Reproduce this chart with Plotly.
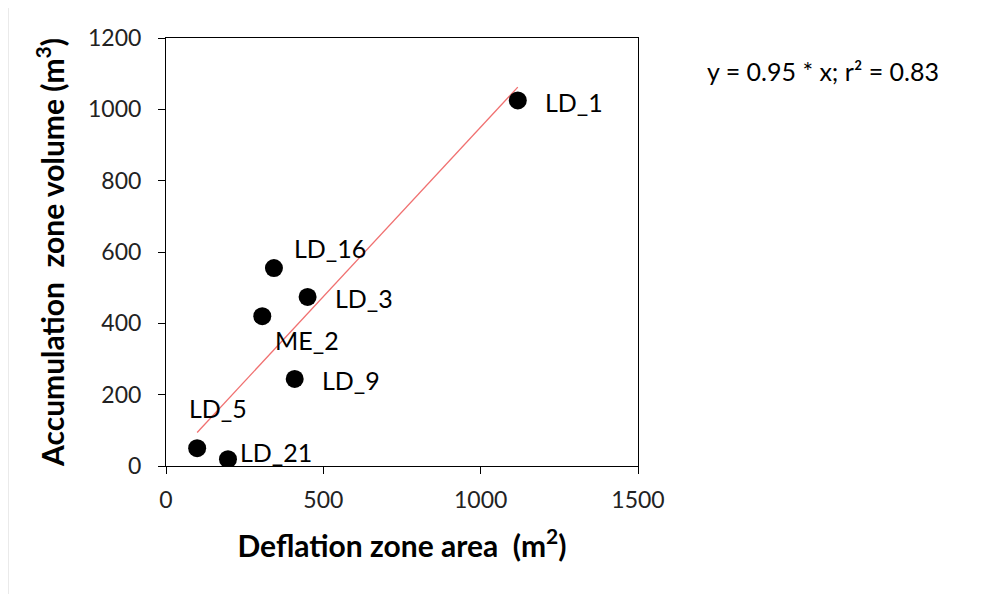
import plotly.graph_objects as go

# site data
sites = ["LD_1", "LD_16", "LD_3", "ME_2", "LD_9", "LD_5", "LD_21"]
deflation_area = [1118, 343, 450, 306, 409, 99, 197]
accum_volume = [1025, 555, 474, 420, 244, 50, 19]

slope = 0.95
r2 = 0.83

# label offsets in pixels (xshift, yshift) from each point
label_offsets = {
    "LD_1": (25, -2),
    "LD_16": (18, 20),
    "LD_3": (25, -1),
    "ME_2": (11, -24),
    "LD_9": (25, -1),
    "LD_5": (-10, 40),
    "LD_21": (10, 7),
}

FONT = "Lato, 'Open Sans', sans-serif"

x_fit = [min(deflation_area), max(deflation_area)]
y_fit = [slope * v for v in x_fit]

fig = go.Figure()
fig.add_trace(go.Scatter(x=x_fit, y=y_fit, mode="lines",
                         line=dict(color="#F07070", width=1.3),
                         showlegend=False, hoverinfo="skip"))
fig.add_trace(go.Scatter(x=deflation_area, y=accum_volume, mode="markers",
                         marker=dict(color="black", size=18),
                         text=sites, showlegend=False))

for name, xv, yv in zip(sites, deflation_area, accum_volume):
    dx, dy = label_offsets[name]
    fig.add_annotation(x=xv, y=yv, text=name, showarrow=False,
                       xanchor="left", yanchor="middle", xshift=dx, yshift=dy,
                       font=dict(family=FONT, size=25, color="black"))

fig.add_annotation(xref="paper", yref="paper", x=1.142, y=0.923,
                   text="y = %.2f * x; r² = %.2f" % (slope, r2),
                   showarrow=False, xanchor="left", yanchor="middle",
                   font=dict(family=FONT, size=25, color="black"))

# faint page border on the left
fig.add_shape(type="line", xref="paper", yref="paper",
              x0=-0.335, x1=-0.335, y0=1.07, y1=-0.3,
              line=dict(color="#c8c8c8", width=1))

fig.update_layout(
    width=1005, height=594,
    margin=dict(l=158, r=375, t=30, b=136),
    plot_bgcolor="white", paper_bgcolor="white",
    font=dict(family=FONT, size=23, color="black"),
)
fig.update_xaxes(range=[0, 1500], tickvals=[0, 500, 1000, 1500],
                 showgrid=False, zeroline=False,
                 showline=True, linecolor="black", linewidth=1, mirror=True,
                 ticks="outside", ticklen=7, tickcolor="black",
                 ticklabelstandoff=6,
                 tickfont=dict(size=23, color="#222"),
                 title=dict(text="<b>Deflation zone area  (m<sup>2</sup>)</b>",
                            font=dict(size=30), standoff=24))
fig.update_yaxes(range=[0, 1200], tickvals=[0, 200, 400, 600, 800, 1000, 1200],
                 showgrid=False, zeroline=False,
                 showline=True, linecolor="black", linewidth=1, mirror=True,
                 ticks="outside", ticklen=7, tickcolor="black",
                 ticklabelstandoff=12,
                 tickfont=dict(size=23, color="#222"),
                 title=dict(text="<b>Accumulation  zone volume (m<sup>3</sup>)</b>",
                            font=dict(size=30), standoff=14))

fig.write_html("out.html")
